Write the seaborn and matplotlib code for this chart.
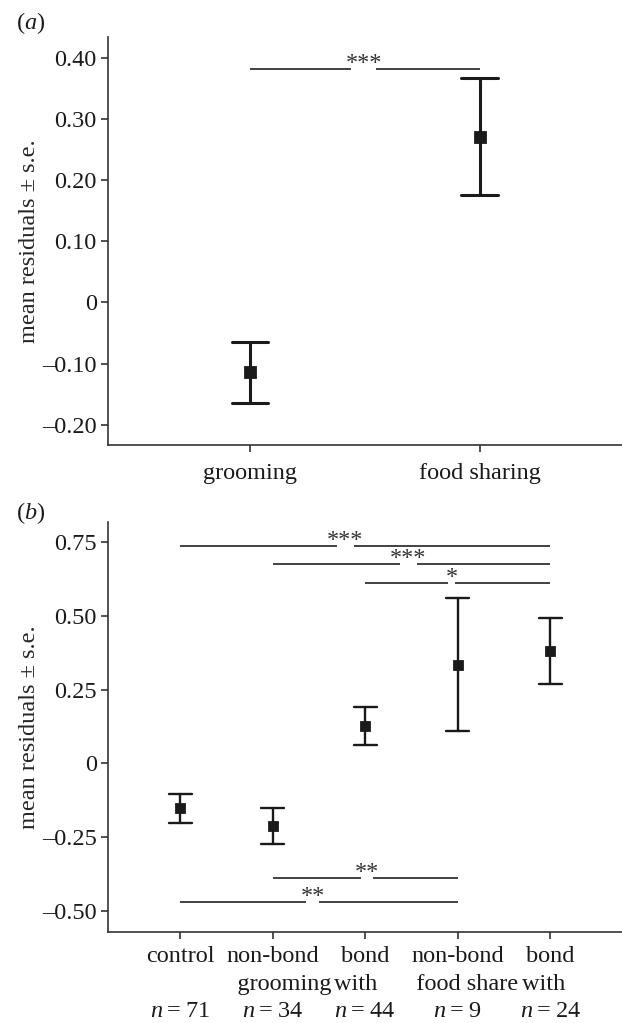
import matplotlib
matplotlib.use("Agg")
import matplotlib.pyplot as plt
import pandas as pd
import seaborn as sns

# Panel (a): grooming vs food sharing
a_groups = ["grooming", "food sharing"]
a_mean = [-0.114, 0.271]
a_low = [-0.164, 0.176]
a_high = [-0.065, 0.366]
a_yticks = [-0.20, -0.10, 0, 0.10, 0.20, 0.30, 0.40]
a_yticklabels = ["\u20130.20", "\u20130.10", "0", "0.10", "0.20", "0.30", "0.40"]

# Panel (b): relationship categories
b_groups = ["control", "non-bond grooming", "bond grooming", "non-bond food share", "bond food share"]
b_ticklabels = ["control\n\n$\\it{n}$\u2009=\u200971",
                "non-bond\n    grooming\n$\\it{n}$\u2009=\u200934",
                "bond\nwith   \n$\\it{n}$\u2009=\u200944",
                "non-bond\n   food share\n$\\it{n}$\u2009=\u20099",
                "bond\nwith  \n$\\it{n}$\u2009=\u200924"]
b_mean = [-0.151, -0.212, 0.127, 0.334, 0.380]
b_low = [-0.200, -0.273, 0.061, 0.111, 0.268]
b_high = [-0.102, -0.149, 0.192, 0.559, 0.491]
b_yticks = [-0.50, -0.25, 0, 0.25, 0.50, 0.75]
b_yticklabels = ["\u20130.50", "\u20130.25", "0", "0.25", "0.50", "0.75"]

# significance brackets: (start, end, height, label, gap_left, gap_right)
a_sig = [(0, 1, 0.381, "***", 0.44, 0.55)]
b_sig = [(0, 4, 0.736, "***", 1.69, 1.88),
         (1, 4, 0.674, "***", 2.375, 2.556),
         (2, 4, 0.609, "*", 2.90, 2.97),
         (1, 3, -0.387, "**", 1.95, 2.08),
         (0, 3, -0.469, "**", 1.36, 1.50)]


def long_form(groups, low, mean, high):
    rows = []
    for g, lo, m, hi in zip(groups, low, mean, high):
        for v in (lo, m, hi):
            rows.append({"group": g, "value": v})
    return pd.DataFrame(rows)


sns.set_style("ticks")
plt.rcParams["font.family"] = ["Liberation Serif", "DejaVu Serif"]
plt.rcParams["mathtext.fontset"] = "custom"
plt.rcParams["mathtext.rm"] = "Liberation Serif"
plt.rcParams["mathtext.it"] = "Liberation Serif:italic"
plt.rcParams["text.color"] = "#1a1a1a"
plt.rcParams["axes.edgecolor"] = "#333333"
plt.rcParams["xtick.color"] = "#333333"
plt.rcParams["ytick.color"] = "#333333"
plt.rcParams["xtick.labelcolor"] = "#1a1a1a"
plt.rcParams["ytick.labelcolor"] = "#1a1a1a"

FS = 17.5

fig = plt.figure(figsize=(6.22, 10.23), dpi=100)
ax_a = fig.add_axes([0.1744, 0.565, 0.8256, 0.399])
ax_b = fig.add_axes([0.1744, 0.0885, 0.8256, 0.4015])

mid = lambda v: (v.min(), v.max())

df_a = long_form(a_groups, a_low, a_mean, a_high)
sns.pointplot(data=df_a, x="group", y="value", order=a_groups, estimator="median",
              errorbar=mid, color="#1a1a1a", marker="s", markersize=6.5, linestyle="none",
              capsize=0.16, err_kws={"linewidth": 2.2}, ax=ax_a)

df_b = long_form(b_groups, b_low, b_mean, b_high)
sns.pointplot(data=df_b, x="group", y="value", order=b_groups, estimator="median",
              errorbar=mid, color="#1a1a1a", marker="s", markersize=6, linestyle="none",
              capsize=0.25, err_kws={"linewidth": 1.7}, ax=ax_b)


def brackets(ax, sigs, fs):
    for x0, x1, y, lab, g0, g1 in sigs:
        ax.plot([x0, g0], [y, y], color="#333333", lw=1.3, solid_capstyle="butt")
        ax.plot([g1, x1], [y, y], color="#333333", lw=1.3, solid_capstyle="butt")
        ax.text((g0 + g1) / 2, y, lab, ha="center", va="baseline", fontsize=fs, color="#333333")


brackets(ax_a, a_sig, FS)
brackets(ax_b, b_sig, FS)

for ax in (ax_a, ax_b):
    sns.despine(ax=ax)
    ax.spines["left"].set_linewidth(1.2)
    ax.spines["bottom"].set_linewidth(1.2)
    ax.tick_params(axis="both", length=5, width=1.2, labelsize=FS)
    ax.set_xlabel("")
    ax.set_ylabel("mean residuals \u00b1 s.e.", fontsize=FS, labelpad=1.5)

ax_a.set_yticks(a_yticks, a_yticklabels)
ax_a.set_ylim(-0.233, 0.434)
ax_a.set_xlim(-0.616, 1.62)
ax_a.tick_params(axis="x", pad=8)

ax_b.set_yticks(b_yticks, b_yticklabels)
ax_b.set_ylim(-0.571, 0.817)
ax_b.set_xlim(-0.775, 4.776)
ax_b.set_xticks(range(len(b_groups)), b_ticklabels)
ax_b.tick_params(axis="x", pad=5)
for lab in ax_b.get_xticklabels():
    lab.set_linespacing(1.4)

fig.text(16 / 622, 1 - 23 / 1023, "($\\it{a}$)", fontsize=FS, va="center")
fig.text(16 / 622, 1 - 513 / 1023, "($\\it{b}$)", fontsize=FS, va="center")

fig.savefig("out.png", dpi=100)
